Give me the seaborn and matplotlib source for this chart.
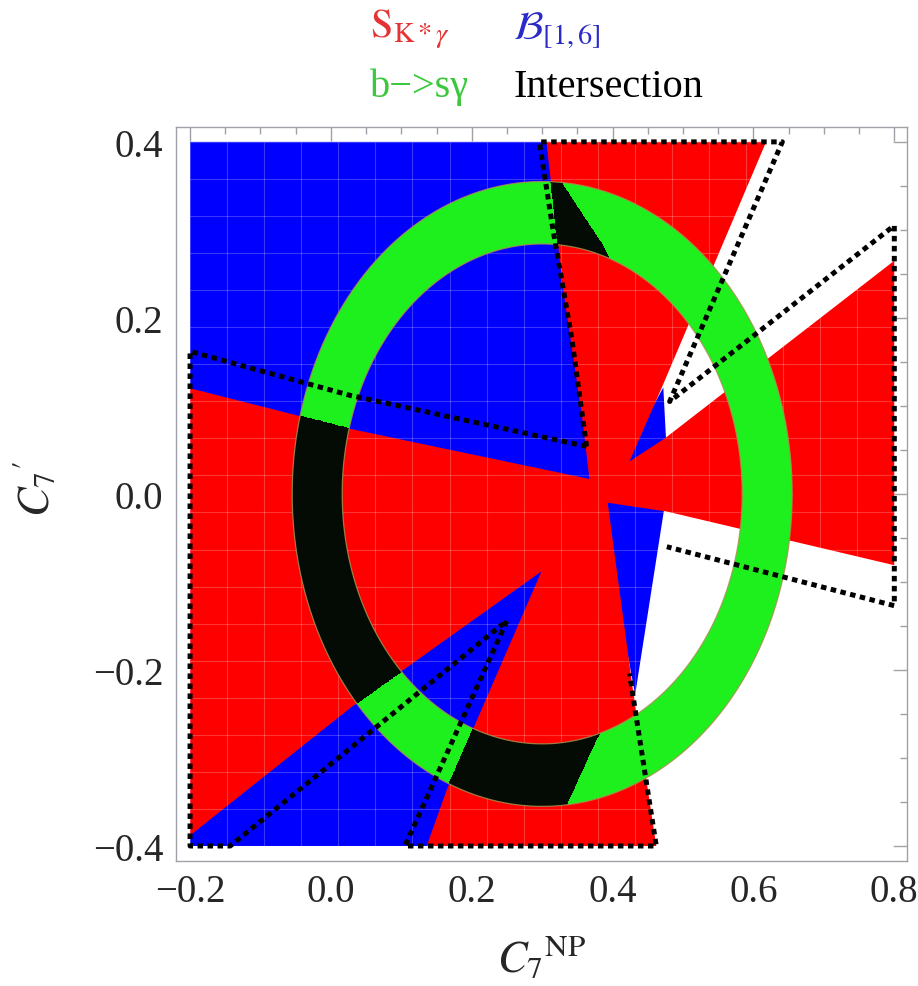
import numpy as np
import matplotlib
matplotlib.use("Agg")
import matplotlib.pyplot as plt
from matplotlib.path import Path
from matplotlib.patches import PathPatch, Polygon
from matplotlib.ticker import MultipleLocator
import seaborn as sns

# ----------------------------------------------------
# Data (C7NP on x, C7' on y)
# ----------------------------------------------------
# b -> s gamma band: ring around a centre point
ring_center = [0.30, 0.0]
ring_radii = [0.284, 0.355]

# S_K*gamma allowed region (outline)
red_x = [-0.2, 0.027, 0.367, 0.357, 0.329, 0.306, 0.618, 0.471, 0.424, 0.474,
         0.8, 0.8, 0.477, 0.393, 0.428, 0.462, 0.136, 0.165, 0.299, 0.031, -0.2]
red_y = [0.120, 0.074, 0.017, 0.086, 0.237, 0.40, 0.40, 0.123, 0.037, 0.063,
         0.265, -0.081, -0.020, -0.010, -0.218, -0.40, -0.40, -0.335, -0.088, -0.241, -0.388]

# B[1,6] allowed region: main part and two small pieces near the centre
blue_x = [-0.2, 0.310, 0.329, 0.386, 0.410, 0.395, 0.390, 0.396, 0.377, 0.335, 0.311, -0.2]
blue_y = [0.40, 0.40, 0.351, 0.282, 0.245, 0.030, -0.100, -0.255, -0.278, -0.352, -0.40, -0.40]
blue_notch_x = [0.472, 0.410, 0.476]
blue_notch_y = [0.121, 0.030, 0.060]
blue_sliver_x = [0.380, 0.474, 0.432]
blue_sliver_y = [-0.005, -0.013, -0.228]

# dashed outline (two open pieces)
dash1_x = [0.363, 0.027, -0.2, -0.2, -0.143, 0.25, 0.105, 0.462, 0.424]
dash1_y = [0.054, 0.112, 0.162, -0.40, -0.40, -0.144, -0.40, -0.40, -0.204]
dash2_x = [0.363, 0.342, 0.315, 0.296, 0.641, 0.481, 0.8, 0.8, 0.477]
dash2_y = [0.054, 0.177, 0.302, 0.40, 0.40, 0.105, 0.305, -0.127, -0.060]

x_ticks = [-0.2, 0.0, 0.2, 0.4, 0.6, 0.8]
x_tick_labels = ["\u22120.2", "0.0", "0.2", "0.4", "0.6", "0.8"]
y_ticks = [-0.4, -0.2, 0.0, 0.2, 0.4]
y_tick_labels = ["\u22120.4", "\u22120.2", "0.0", "0.2", "0.4"]

RED = "#ff0000"
BLUE = "#0000ff"
GREEN = "#1ef01e"
BLACK = "#040a04"

# ----------------------------------------------------
# Style
# ----------------------------------------------------
sns.set_style("white")
plt.rcParams["font.family"] = ["Liberation Serif", "DejaVu Serif"]
plt.rcParams["mathtext.fontset"] = "stix"

fig = plt.figure(figsize=(9.18, 9.87), dpi=100)
ax = fig.add_axes([0.1917, 0.1267, 0.7963, 0.7437])

# ----------------------------------------------------
# Regions
# ----------------------------------------------------
blue_polys = [np.column_stack([blue_x, blue_y]),
              np.column_stack([blue_notch_x, blue_notch_y]),
              np.column_stack([blue_sliver_x, blue_sliver_y])]
for poly in blue_polys:
    ax.add_patch(Polygon(poly, closed=True, fc=BLUE, ec="none", zorder=1))

red_poly = np.column_stack([red_x, red_y])
ax.add_patch(Polygon(red_poly, closed=True, fc=RED, ec="none", zorder=2))

# faint mesh lines seen on the filled areas
ax.vlines(np.linspace(-0.2, 0.8, 20), -0.4, 0.4, colors="white", alpha=0.22, lw=0.8, zorder=2.5)
ax.hlines(np.linspace(-0.4, 0.4, 20), -0.2, 0.8, colors="white", alpha=0.22, lw=0.8, zorder=2.5)

# ring
cx, cy = ring_center
r_in, r_out = ring_radii
theta = np.linspace(0, 2 * np.pi, 400)
outer = np.column_stack([cx + r_out * np.cos(theta), cy + r_out * np.sin(theta)])
inner = np.column_stack([cx + r_in * np.cos(theta[::-1]), cy + r_in * np.sin(theta[::-1])])
verts = np.vstack([outer, inner])
codes = np.full(len(verts), Path.LINETO)
codes[0] = Path.MOVETO
codes[len(outer)] = Path.MOVETO
ring_path = Path(verts, codes)
ax.add_patch(PathPatch(ring_path, fc=GREEN, ec="none", zorder=3))

# intersection = ring & red & blue, worked out on a fine grid
gx = np.linspace(-0.2, 0.8, 1201)
gy = np.linspace(-0.4, 0.4, 961)
GX, GY = np.meshgrid(gx, gy)
pts = np.column_stack([GX.ravel(), GY.ravel()])
in_red = Path(red_poly).contains_points(pts)
in_blue = np.zeros(len(pts), dtype=bool)
for poly in blue_polys:
    in_blue |= Path(poly).contains_points(pts)
rr = np.hypot(pts[:, 0] - cx, pts[:, 1] - cy)
near_ring = (rr > r_in - 0.01) & (rr < r_out + 0.01)
inter = (in_red & in_blue & near_ring).reshape(GX.shape).astype(float)
cs = ax.contourf(GX, GY, inter, levels=[0.5, 1.5], colors=[BLACK], zorder=4)
cs.set_clip_path(ring_path, transform=ax.transData)

# thin ring edges
for r in ring_radii:
    ax.plot(cx + r * np.cos(theta), cy + r * np.sin(theta), color="#b08a50", lw=0.9, alpha=0.8, zorder=4.5)

# dashed outline
for dx, dy in [(dash1_x, dash1_y), (dash2_x, dash2_y)]:
    ax.plot(dx, dy, color="black", lw=3.6, linestyle=(0, (1.1, 0.9)),
            dash_capstyle="butt", zorder=6, clip_on=False)

# ----------------------------------------------------
# Axes
# ----------------------------------------------------
ax.set_xlim(-0.22, 0.818)
ax.set_ylim(-0.417, 0.417)
ax.set_xticks(x_ticks)
ax.set_xticklabels(x_tick_labels)
ax.set_yticks(y_ticks)
ax.set_yticklabels(y_tick_labels)
ax.xaxis.set_minor_locator(MultipleLocator(0.05))
ax.yaxis.set_minor_locator(MultipleLocator(0.05))
ax.tick_params(which="both", direction="in", top=True, right=True, color="#a0a0a8", width=1)
ax.tick_params(which="major", length=10, labelsize=28, pad=9)
ax.tick_params(which="minor", length=5)
for sp in ax.spines.values():
    sp.set_color("#a0a0a8")
    sp.set_linewidth(1.0)

ax.set_xlabel(r"${C_7}^{\mathrm{NP}}$", fontsize=32)
ax.xaxis.set_label_coords(0.5, -0.10)
ax.set_ylabel(r"$C_7{}'$", fontsize=32)
ax.yaxis.set_label_coords(-0.162, 0.508)

# ----------------------------------------------------
# Legend (text rows on top)
# ----------------------------------------------------
fig.text(0.403, 0.9615, r"$\mathrm{S}_{\mathrm{K}*\gamma}$", color="#e53232", fontsize=29, va="baseline")
fig.text(0.559, 0.9615, r"$\mathcal{B}_{[1,6]}$", color="#2a2ac8", fontsize=29, va="baseline")
fig.text(0.403, 0.9017, "b\u2212>s\u03b3", color="#3cc83c", fontsize=29, va="baseline")
fig.text(0.559, 0.9017, "Intersection", color="black", fontsize=29, va="baseline")

fig.savefig("out.png", dpi=100)
